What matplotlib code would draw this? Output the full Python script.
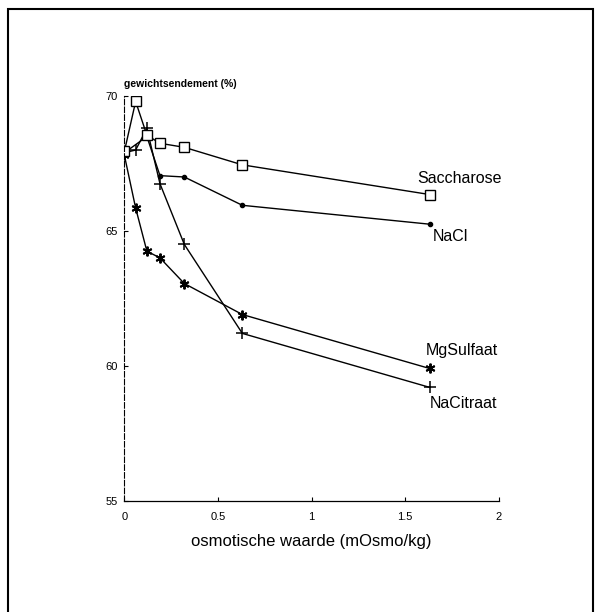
import matplotlib.pyplot as plt
from matplotlib.patches import Rectangle

plt.rcParams['font.family'] = ['Liberation Sans', 'DejaVu Sans']

# osmotische waarde (mOsmo/kg)
osmo = [0, 0.06, 0.12, 0.19, 0.32, 0.63, 1.63]

# gewichtsendement (%)
saccharose = [67.95, 69.8, 68.55, 68.25, 68.1, 67.45, 66.35]
nacl = [67.9, None, 68.5, 67.05, 67.0, 65.95, 65.25]
nacitraat = [67.9, 68.0, 68.8, 66.75, 64.5, 61.2, 59.2]
mgsulfaat = [67.8, 65.85, 64.25, 64.0, 63.05, 61.9, 59.9]

labels = ['Saccharose', 'NaCl', 'MgSulfaat', 'NaCitraat']
label_x = [1.79, 1.74, 1.80, 1.81]
label_y = [66.95, 64.8, 60.55, 58.6]

fig = plt.figure(figsize=(6.01, 6.12), dpi=100)
ax = fig.add_axes([0.207, 0.182, 0.623, 0.661])

# NaCl has no value at 0.06
nacl_x = [x for x, v in zip(osmo, nacl) if v is not None]
nacl_y = [v for v in nacl if v is not None]

ax.plot(osmo, nacitraat, color='black', lw=1, marker='+', ms=8, mew=1.1)
ax.plot(osmo, mgsulfaat, color='black', lw=1, marker=(6, 2, 0), ms=7, mew=1.4)
ax.plot(nacl_x, nacl_y, color='black', lw=1, marker='o', ms=3)
ax.plot(osmo, saccharose, color='black', lw=1, marker='s', ms=6.5,
        mfc='white', mec='black', mew=1)

for t, x, y in zip(labels, label_x, label_y):
    ax.text(x, y, t, fontsize=11.5, ha='center', va='center')

ax.set_xlim(0, 2)
ax.set_ylim(55, 70)
ax.set_xticks([0, 0.5, 1, 1.5, 2])
ax.set_xticklabels(['0', '0.5', '1', '1.5', '2'])
ax.set_yticks([55, 60, 65, 70])
ax.tick_params(direction='in', length=3, width=0.8, labelsize=8)
ax.tick_params(axis='x', pad=8)
ax.tick_params(axis='y', pad=5)

ax.spines['top'].set_visible(False)
ax.spines['right'].set_visible(False)
ax.spines['left'].set_linestyle((0, (5, 2)))
ax.spines['left'].set_linewidth(0.8)
ax.spines['bottom'].set_linewidth(0.9)

ax.set_xlabel('osmotische waarde (mOsmo/kg)', fontsize=12, labelpad=9)
ax.text(0, 70.25, 'gewichtsendement (%)', fontsize=7.5, ha='left', va='bottom',
        fontweight='bold')

# frame round the figure
fig.patches.append(Rectangle((0.014, -0.05), 0.972, 1.036, transform=fig.transFigure,
                             fill=False, edgecolor='black', lw=1.5))

fig.savefig('out.png', dpi=100)
